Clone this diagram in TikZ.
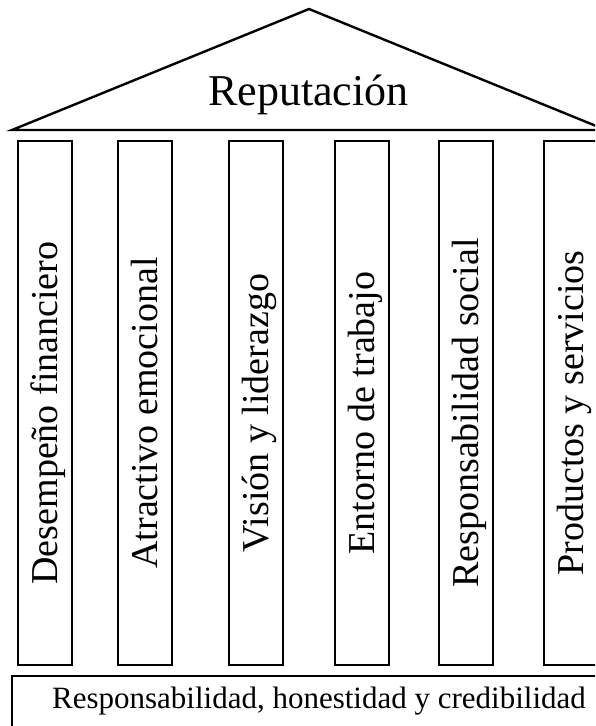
\documentclass[tikz,border=0pt]{standalone}
\usepackage{fontspec}
\setmainfont{Liberation Serif}
\begin{document}
\begin{tikzpicture}[x=1pt,y=-1pt,
  outline/.style={draw=black,line width=2.4pt,line join=miter},
  pillar/.style={draw=black,line width=2pt,minimum width=54pt,minimum height=524pt,inner sep=0pt},
  pillartext/.style={rotate=90,anchor=base,inner sep=0pt,font=\fontsize{38}{44}\selectfont},
  rooftext/.style={anchor=base,inner sep=0pt,font=\fontsize{44}{50}\selectfont},
  basetext/.style={anchor=base,inner sep=0pt,font=\fontsize{31}{36}\selectfont}]
\useasboundingbox (0,0) rectangle (595,726);
\clip (0,0) rectangle (595,726);
\fill[white] (0,0) rectangle (595,726);

% roof
\coordinate (apex) at (309,9);
\coordinate (eaveL) at (12,130);
\coordinate (eaveR) at (606,130);
\draw[outline] (eaveL) -- (apex) -- (eaveR) -- cycle;
\node[rooftext] (roof) at (308.5,105) {Reputación};

% columns
\foreach \name/\cx/\txt in {p1/44.5/Desempeño financiero,
                            p2/145/Atractivo emocional,
                            p3/256/Visión y liderazgo,
                            p4/362/Entorno de trabajo,
                            p5/466/Responsabilidad social,
                            p6/571/Productos y servicios}{
  \node[pillar] (\name) at (\cx,403) {};
  \node[pillartext] (\name-label) at ([shift={(12.5,10)}]\name.center) {\txt};
}

% foundation
\draw[outline] (12,740) -- (12,676) -- (606,676) -- (606,740);
\node[basetext] (base) at (319,708) {Responsabilidad, honestidad y credibilidad};
\end{tikzpicture}
\end{document}
